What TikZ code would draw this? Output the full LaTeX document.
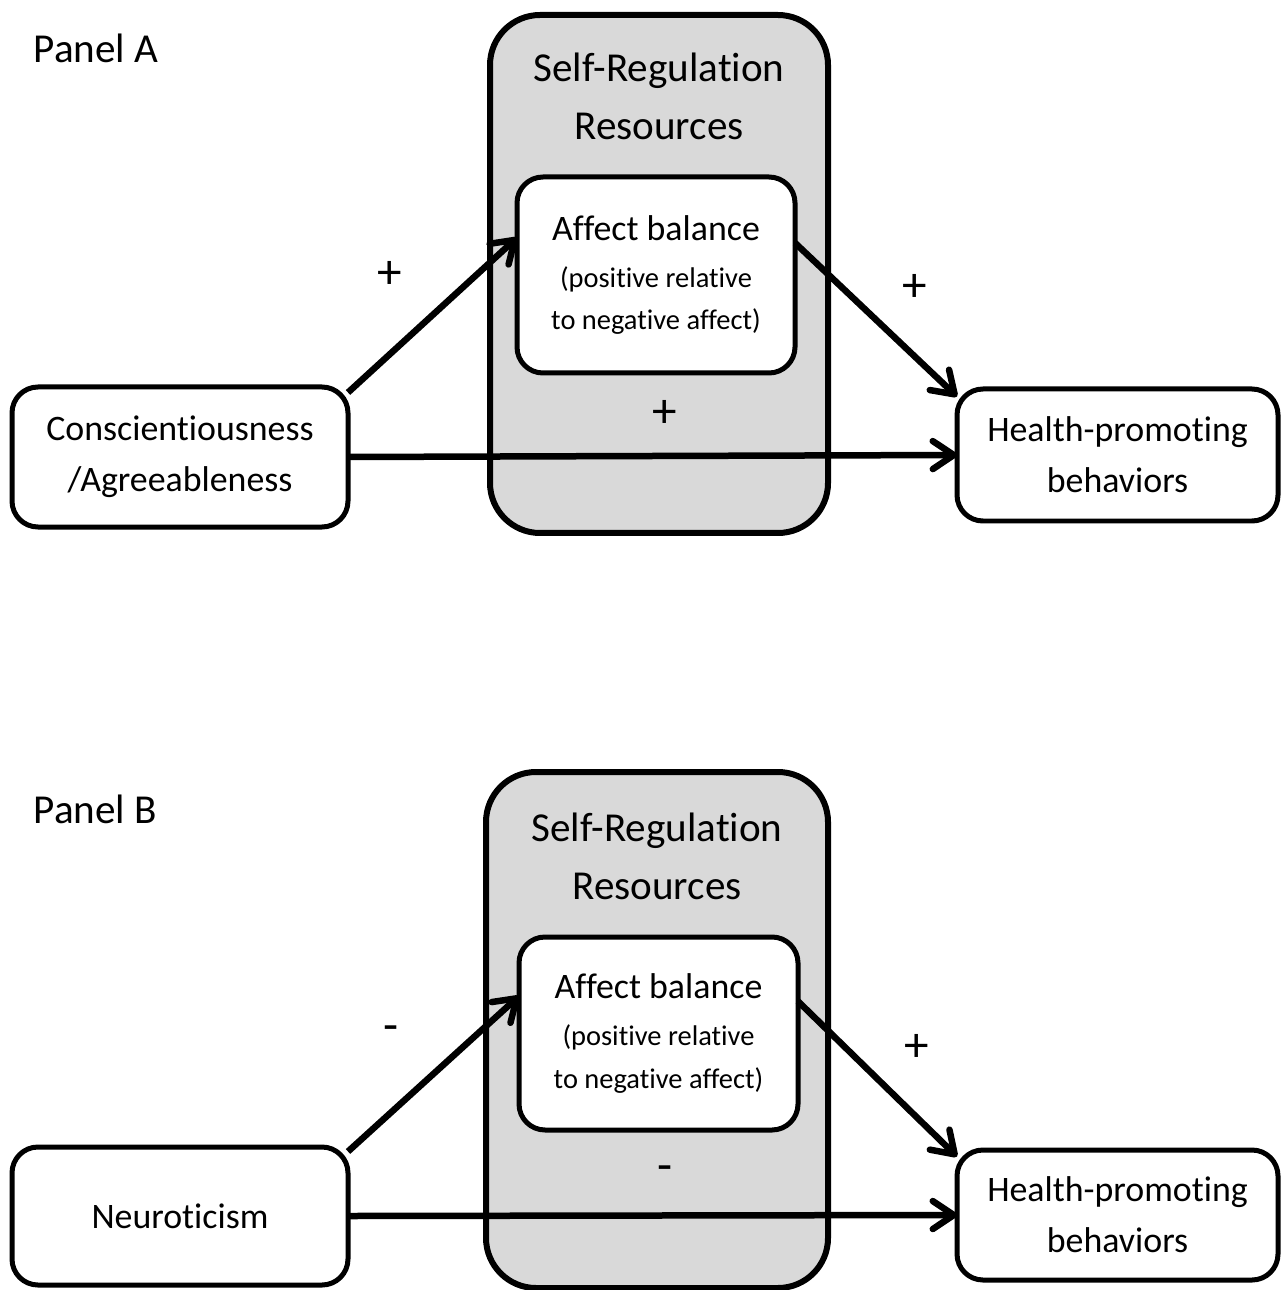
\documentclass[tikz,border=0pt]{standalone}
\usepackage{fontspec}
\setmainfont{Carlito}[Ligatures=NoCommon]
\usetikzlibrary{arrows.meta}
\definecolor{regiongray}{HTML}{D9D9D9}

\begin{document}
\begin{tikzpicture}[x=0.1mm, y=-0.1mm]
    \tikzset{box/.style={draw, line width=0.5mm, rounded corners=2.6mm, fill=white, inner sep=0pt, outer sep=0pt, align=center, font=\fontsize{10.2}{14.5}\selectfont},
             affectbox/.style={box, font=\fontsize{8.1}{12.2}\selectfont},
             resource/.style={draw, line width=0.6mm, rounded corners=5mm, fill=regiongray, inner sep=0pt, outer sep=0pt},
             heading/.style={inner sep=0pt, font=\fontsize{11.7}{16.5}\selectfont},
             sign/.style={font=\fontsize{14}{16}\selectfont},
             >={Straight Barb[length=2.1mm, width=2.8mm, line cap=round, line join=round]}}
    \useasboundingbox (0,0) rectangle (1287,1290);

    % Panel A
    \node[heading, anchor=base west] (panelA) at (33,63) {Panel A};
    \node[resource, minimum width=33.8mm, minimum height=51.8mm] (srrA) at (659,274) {};
    \node[heading, align=center, anchor=north] (srrtextA) at (659,52) {Self-Regulation\\Resources};
    \node[affectbox, minimum width=27.8mm, minimum height=19.6mm] (affectA) at (656,275)
        {\fontsize{10.2}{12.2}\selectfont Affect balance\\[1.2pt](positive relative\\to negative affect)};
    \node[box, minimum width=33.6mm, minimum height=14mm] (conscA) at (180,457) {Conscientiousness\\/Agreeableness};
    \node[box, minimum width=32.1mm, minimum height=13.2mm] (healthA) at (1117.5,455) {Health-promoting\\behaviors};

    \path[->, line width=0.65mm]
        (conscA.21) edge node[sign, pos=0.48, xshift=-3.9mm, yshift=4.3mm] {+} (affectA.165)
        (conscA.east) edge node[sign, pos=0.52, yshift=4.2mm] {+} (healthA.west)
        (affectA.13) edge node[sign, pos=0.53, xshift=3.4mm, yshift=3.6mm] {+} (healthA.160);

    % Panel B
    \node[heading, anchor=base west] (panelB) at (33,823) {Panel B};
    \node[resource, minimum width=34.2mm, minimum height=51.6mm] (srrB) at (657,1030) {};
    \node[heading, align=center, anchor=north] (srrtextB) at (657,812) {Self-Regulation\\Resources};
    \node[affectbox, minimum width=27.9mm, minimum height=19.3mm] (affectB) at (658.5,1033.5)
        {\fontsize{10.2}{12.2}\selectfont Affect balance\\[1.2pt](positive relative\\to negative affect)};
    \node[box, minimum width=33.6mm, minimum height=13.8mm] (neuroB) at (180,1216) {Neuroticism};
    \node[box, minimum width=32.1mm, minimum height=13mm] (healthB) at (1117.5,1215) {Health-promoting\\behaviors};

    \path[->, line width=0.65mm]
        (neuroB.21) edge node[sign, pos=0.48, xshift=-3.9mm, yshift=4.3mm] {-} (affectB.165)
        (neuroB.east) edge node[sign, pos=0.52, yshift=4.2mm] {-} (healthB.west)
        (affectB.13) edge node[sign, pos=0.53, xshift=3.4mm, yshift=3.6mm] {+} (healthB.160);
\end{tikzpicture}
\end{document}
